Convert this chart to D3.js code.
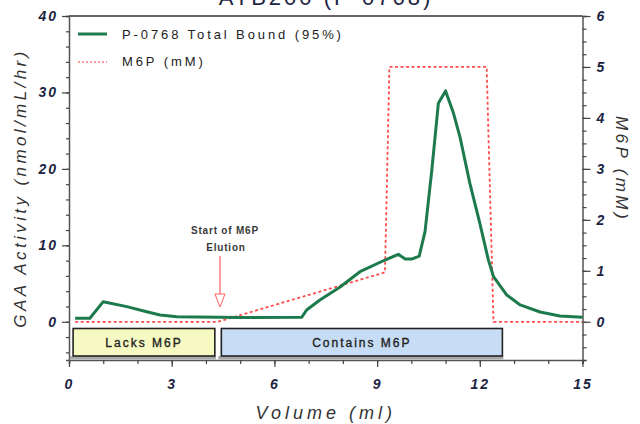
<!DOCTYPE html>
<html>
<head>
<meta charset="utf-8">
<script src="https://cdn.jsdelivr.net/npm/d3@7"></script>
<style>
  html, body { margin: 0; padding: 0; background: #fff; }
  svg { display: block; }
  text { font-family: "Liberation Sans", Arial, sans-serif; }
</style>
</head>
<body>
<svg id="chart" width="640" height="424"></svg>
<script>
// GAA activity of the total bound fraction across the elution volume
const volume = [0.18, 0.61, 1.0, 1.69, 2.27, 2.66, 3.15, 5.0, 6.8, 6.94, 7.33, 7.92, 8.5, 9.23, 9.62, 9.82, 10.01, 10.23, 10.4, 10.6, 10.79, 11.0, 11.23, 11.42, 11.71, 12.0, 12.25, 12.4, 12.79, 13.18, 13.76, 14.34, 15.0];
const gaa    = [0.46, 0.46, 2.63, 1.98, 1.32, 0.89, 0.67, 0.56, 0.59, 1.54, 2.85, 4.55, 6.55, 8.08, 8.83, 8.2, 8.2, 8.6, 11.8, 19.9, 28.6, 30.2, 27.3, 24.2, 18.1, 12.9, 8.1, 5.9, 3.5, 2.2, 1.28, 0.76, 0.59];

// M6P gradient applied during elution (mM)
const m6pVolume = [0.18, 4.35, 9.23, 9.36, 12.2, 12.4, 15.0];
const m6pConc   = [0, 0, 0.97, 5, 5, 0, 0];

// Fraction pools shown under the trace
const poolLabels = ["Lacks M6P", "Contains M6P"];
const poolStart  = [0.12, 4.45];
const poolEnd    = [4.26, 12.66];
const poolFill   = ["#f6f9c2", "#c7dcf5"];

// Axis ticks
const xMajor = [0, 3, 6, 9, 12, 15];
const yLeftMajor = [0, 10, 20, 30, 40];
const yRightMajor = [0, 1, 2, 3, 4, 5, 6];

const svg = d3.select("#chart");
const plotLeft = 69, plotRight = 582.5, plotTop = 16, plotBottom = 360;

const x = d3.scaleLinear().domain([0, 15]).range([plotLeft, plotRight]);
const yL = d3.scaleLinear().domain([-5, 40]).range([plotBottom, plotTop]);
const yR = d3.scaleLinear().domain([-0.75, 6]).range([plotBottom, plotTop]);

const ink = "#1c2442";
const tickFont = "italic bold 14px 'Liberation Sans', Arial, sans-serif";

// Title (runs off the top edge)
svg.append("text")
  .attr("x", 326).attr("y", 5)
  .attr("text-anchor", "middle")
  .attr("font-size", 22)
  .attr("letter-spacing", 3)
  .attr("fill", ink)
  .text("ATB200 (P-0768)");

// Top frame line
svg.append("line")
  .attr("x1", plotLeft).attr("x2", plotRight).attr("y1", plotTop).attr("y2", plotTop)
  .attr("stroke", "#333").attr("stroke-width", 1.5);

function styleAxis(g) {
  g.select(".domain").attr("stroke", "#555").attr("stroke-width", 1.5);
  g.selectAll(".tick line").attr("stroke", "#444").attr("stroke-width", 1.2);
  g.selectAll(".tick text")
    .style("font", tickFont)
    .attr("fill", ink)
    .attr("letter-spacing", 2);
}

// Bottom axis: minor ticks every 1 ml, labelled every 3 ml
svg.append("g").attr("transform", `translate(0,${plotBottom})`)
  .call(d3.axisBottom(x).tickValues(d3.range(0, 16, 1)).tickSize(4).tickFormat(""))
  .call(styleAxis);
svg.append("g").attr("transform", `translate(0,${plotBottom})`)
  .call(d3.axisBottom(x).tickValues(xMajor).tickSize(7).tickPadding(12).tickFormat(d3.format("d")))
  .call(styleAxis)
  .call(g => g.select(".domain").remove());

// Left axis: GAA activity
svg.append("g").attr("transform", `translate(${plotLeft},0)`)
  .call(d3.axisLeft(yL).tickValues(d3.range(-4, 41, 2)).tickSize(3).tickFormat(""))
  .call(styleAxis);
svg.append("g").attr("transform", `translate(${plotLeft},0)`)
  .call(d3.axisLeft(yL).tickValues(yLeftMajor).tickSize(7).tickPadding(4).tickFormat(d3.format("d")))
  .call(styleAxis)
  .call(g => g.select(".domain").remove());

// Right axis: M6P concentration
svg.append("g").attr("transform", `translate(${plotRight},0)`)
  .call(d3.axisRight(yR).tickValues(d3.range(-0.75, 6.01, 0.25)).tickSize(4).tickFormat(""))
  .call(styleAxis);
svg.append("g").attr("transform", `translate(${plotRight},0)`)
  .call(d3.axisRight(yR).tickValues(yRightMajor).tickSize(8).tickPadding(6).tickFormat(d3.format("d")))
  .call(styleAxis)
  .call(g => g.select(".domain").remove());

// Axis titles
svg.append("text")
  .attr("transform", `translate(${(plotLeft + plotRight) / 2},419)`)
  .attr("text-anchor", "middle")
  .style("font", "italic 18px 'Liberation Sans', Arial, sans-serif")
  .attr("letter-spacing", 4)
  .attr("fill", "#333")
  .text("Volume (ml)");

svg.append("text")
  .attr("transform", "translate(26,188) rotate(-90)")
  .attr("text-anchor", "middle")
  .style("font", "italic 17px 'Liberation Sans', Arial, sans-serif")
  .attr("letter-spacing", 3.4)
  .attr("fill", "#333")
  .text("GAA Activity (nmol/mL/hr)");

svg.append("text")
  .attr("transform", "translate(616,169) rotate(90)")
  .attr("text-anchor", "middle")
  .style("font", "italic 17px 'Liberation Sans', Arial, sans-serif")
  .attr("letter-spacing", 3.4)
  .attr("fill", "#333")
  .text("M6P (mM)");

// Pool boxes
const boxTop = 328.5, boxBottom = 356;
poolLabels.forEach((label, i) => {
  const x0 = x(poolStart[i]), x1 = x(poolEnd[i]);
  svg.append("rect")
    .attr("x", x0 - 3).attr("y", boxBottom)
    .attr("width", x1 - x0 + 4).attr("height", 3.5)
    .attr("fill", "#a8a8a8");
  svg.append("rect")
    .attr("x", x0).attr("y", boxTop)
    .attr("width", x1 - x0).attr("height", boxBottom - boxTop)
    .attr("fill", poolFill[i])
    .attr("stroke", "#222").attr("stroke-width", 1.6);
  svg.append("text")
    .attr("x", (x0 + x1) / 2).attr("y", (boxTop + boxBottom) / 2 + 4.5)
    .attr("text-anchor", "middle")
    .style("font", "12px 'Liberation Sans', Arial, sans-serif")
    .attr("letter-spacing", 2)
    .attr("stroke", "#222").attr("stroke-width", 0.35)
    .attr("fill", "#222")
    .text(label);
});

// M6P step gradient
svg.append("path")
  .datum(d3.zip(m6pVolume, m6pConc))
  .attr("fill", "none")
  .attr("stroke", "#ff4d4d")
  .attr("stroke-width", 1.8)
  .attr("stroke-dasharray", "3,2.5")
  .attr("d", d3.line().x(d => x(d[0])).y(d => yR(d[1])));

// GAA activity trace
svg.append("path")
  .datum(d3.zip(volume, gaa))
  .attr("fill", "none")
  .attr("stroke", "#1d7a4c")
  .attr("stroke-width", 3)
  .attr("stroke-linejoin", "round")
  .attr("d", d3.line().x(d => x(d[0])).y(d => yL(d[1])));

// Annotation: start of M6P elution
const ax = x(4.41);
svg.append("text")
  .attr("x", ax + 5).attr("y", 234)
  .attr("text-anchor", "middle")
  .style("font", "bold 10px 'Liberation Sans', Arial, sans-serif")
  .attr("letter-spacing", 0.8)
  .attr("fill", "#3a3a3a")
  .text("Start of M6P");
svg.append("text")
  .attr("x", ax + 6).attr("y", 251)
  .attr("text-anchor", "middle")
  .style("font", "bold 10px 'Liberation Sans', Arial, sans-serif")
  .attr("letter-spacing", 0.8)
  .attr("fill", "#3a3a3a")
  .text("Elution");
svg.append("line")
  .attr("x1", ax).attr("x2", ax).attr("y1", 256).attr("y2", 294)
  .attr("stroke", "#ff6060").attr("stroke-width", 1.2);
svg.append("path")
  .attr("d", `M${ax - 5},294 L${ax + 5},294 L${ax},307 Z`)
  .attr("fill", "#fff").attr("stroke", "#ff6060").attr("stroke-width", 1);

// Legend
const legend = svg.append("g");
legend.append("line")
  .attr("x1", 78).attr("x2", 107).attr("y1", 34).attr("y2", 34)
  .attr("stroke", "#1d7a4c").attr("stroke-width", 3);
legend.append("text")
  .attr("x", 122).attr("y", 39)
  .style("font", "13px 'Liberation Sans', Arial, sans-serif")
  .attr("letter-spacing", 2.9)
  .attr("fill", "#222")
  .text("P-0768 Total Bound (95%)");
legend.append("line")
  .attr("x1", 78).attr("x2", 107).attr("y1", 62).attr("y2", 62)
  .attr("stroke", "#ff7a7a").attr("stroke-width", 1.6)
  .attr("stroke-dasharray", "2,2");
legend.append("text")
  .attr("x", 122).attr("y", 66)
  .style("font", "13px 'Liberation Sans', Arial, sans-serif")
  .attr("letter-spacing", 2.9)
  .attr("fill", "#222")
  .text("M6P (mM)");
</script>
</body>
</html>
